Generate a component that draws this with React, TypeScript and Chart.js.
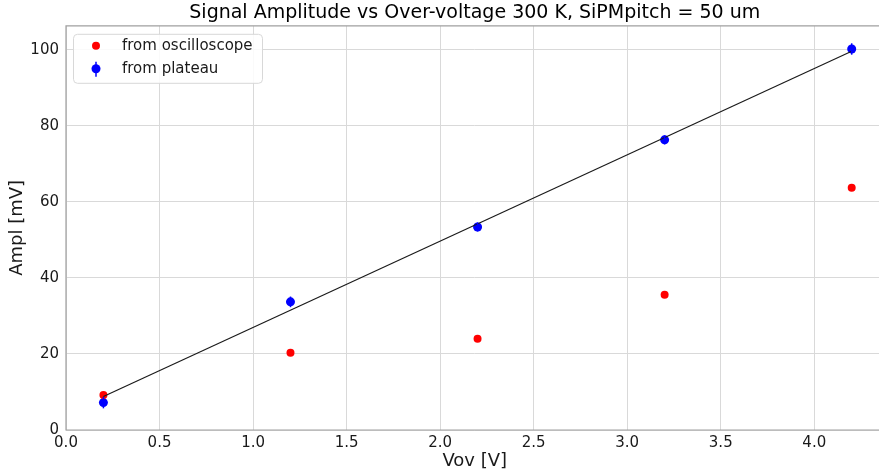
import React, { useEffect, useRef } from "react";
import { Chart, registerables } from "chart.js";

Chart.register(...registerables);

const titleText = "Signal Amplitude vs Over-voltage 300 K, SiPMpitch = 50 um";
const xLabel = "Vov [V]";
const yLabel = "Ampl [mV]";

const vov = [0.2, 1.2, 2.2, 3.2, 4.2];
const amplOscilloscope = [9.2, 20.3, 24.0, 35.6, 63.7];
const amplPlateau = [7.2, 33.7, 53.4, 76.3, 100.2];
const plateauErr = [1.5, 1.4, 1.2, 1.2, 1.5];
const fitX = [0.2, 4.2];
const fitY = [8.8, 99.6];

const xTicks = [0, 0.5, 1.0, 1.5, 2.0, 2.5, 3.0, 3.5, 4.0];
const yTicks = [0, 20, 40, 60, 80, 100];
const xRange = [0, 4.37];
const yRange = [0, 106.3];

const legendLabels = ["from oscilloscope", "from plateau"];

const FONT = "'DejaVu Sans', sans-serif";
const CANVAS_W = 888;
const CANVAS_H = 473;

const extrasPlugin = {
  id: "extras",
  afterDatasetsDraw(chart: any) {
    const { ctx, chartArea } = chart;
    const xs = chart.scales.x;
    const ys = chart.scales.y;
    ctx.save();
    // spines
    ctx.strokeStyle = "#a0a0a0";
    ctx.lineWidth = 1.2;
    ctx.beginPath();
    ctx.moveTo(chartArea.right, chartArea.top);
    ctx.lineTo(chartArea.left, chartArea.top);
    ctx.lineTo(chartArea.left, chartArea.bottom);
    ctx.lineTo(chartArea.right, chartArea.bottom);
    ctx.lineTo(chartArea.right, chartArea.top);
    ctx.stroke();
    // error bars
    ctx.strokeStyle = "#0000ff";
    ctx.lineWidth = 1.5;
    vov.forEach((x, i) => {
      const px = xs.getPixelForValue(x);
      ctx.beginPath();
      ctx.moveTo(px, ys.getPixelForValue(amplPlateau[i] - plateauErr[i]));
      ctx.lineTo(px, ys.getPixelForValue(amplPlateau[i] + plateauErr[i]));
      ctx.stroke();
    });
    // legend
    const lx = chartArea.left + 7;
    const ly = chartArea.top + 8;
    const lw = 189;
    const lh = 49;
    ctx.fillStyle = "rgba(255,255,255,0.85)";
    ctx.strokeStyle = "#d8d8d8";
    ctx.lineWidth = 1;
    ctx.beginPath();
    (ctx as any).roundRect(lx + 0.5, ly + 0.5, lw, lh, 4);
    ctx.fill();
    ctx.stroke();
    const rowY = [ly + 12, ly + 35];
    const mx = lx + 23;
    ctx.fillStyle = "#ff0000";
    ctx.beginPath();
    ctx.arc(mx, rowY[0], 4, 0, Math.PI * 2);
    ctx.fill();
    ctx.strokeStyle = "#0000ff";
    ctx.lineWidth = 1.5;
    ctx.beginPath();
    ctx.moveTo(mx, rowY[1] - 7);
    ctx.lineTo(mx, rowY[1] + 8);
    ctx.stroke();
    ctx.fillStyle = "#0000ff";
    ctx.beginPath();
    ctx.arc(mx, rowY[1], 4.5, 0, Math.PI * 2);
    ctx.fill();
    ctx.fillStyle = "#1a1a1a";
    ctx.font = `15px ${FONT}`;
    ctx.textBaseline = "middle";
    ctx.textAlign = "left";
    ctx.fillText(legendLabels[0], lx + 49, rowY[0]);
    ctx.fillText(legendLabels[1], lx + 49, rowY[1]);
    ctx.restore();
  },
};

export default function App() {
  const ref = useRef<HTMLCanvasElement | null>(null);
  useEffect(() => {
    document.body.style.margin = "0";
    if (!ref.current) return;
    const chart = new Chart(ref.current, {
      type: "scatter",
      data: {
        datasets: [
          {
            label: "fit",
            type: "line",
            data: fitX.map((x, i) => ({ x, y: fitY[i] })),
            borderColor: "#1a1a1a",
            borderWidth: 1.2,
            pointRadius: 0,
            showLine: true,
            fill: false,
          } as any,
          {
            label: legendLabels[0],
            data: vov.map((x, i) => ({ x, y: amplOscilloscope[i] })),
            backgroundColor: "#ff0000",
            borderColor: "#ff0000",
            pointRadius: 4,
            pointBorderWidth: 0,
          },
          {
            label: legendLabels[1],
            data: vov.map((x, i) => ({ x, y: amplPlateau[i] })),
            backgroundColor: "#0000ff",
            borderColor: "#0000ff",
            pointRadius: 4.5,
            pointBorderWidth: 0,
          },
        ],
      },
      plugins: [extrasPlugin],
      options: {
        animation: false,
        responsive: false,
        maintainAspectRatio: false,
        layout: { padding: 0 },
        plugins: {
          legend: { display: false },
          tooltip: { enabled: false },
          title: {
            display: true,
            text: titleText,
            fullSize: false,
            color: "#000",
            font: { family: FONT, size: 19, weight: "normal" },
            padding: { top: 2, bottom: 1 },
          },
        },
        scales: {
          x: {
            type: "linear",
            min: xRange[0],
            max: xRange[1],
            afterBuildTicks: (s: any) => {
              s.ticks = xTicks.map((v) => ({ value: v }));
            },
            afterFit: (s: any) => {
              s.height = 43;
              s.paddingRight = 0;
              s.paddingLeft = 0;
            },
            ticks: {
              color: "#1a1a1a",
              font: { family: FONT, size: 15 },
              padding: 1,
              maxRotation: 0,
              callback: (v: any) => Number(v).toFixed(1),
            },
            grid: { color: "#d9d9d9", lineWidth: 1, drawTicks: true, tickLength: 3, tickColor: "rgba(0,0,0,0)" },
            border: { display: false },
            title: {
              display: true,
              text: xLabel,
              color: "#1a1a1a",
              font: { family: FONT, size: 18 },
              padding: { top: 0, bottom: 1 },
            },
          },
          y: {
            type: "linear",
            min: yRange[0],
            max: yRange[1],
            afterBuildTicks: (s: any) => {
              s.ticks = yTicks.map((v) => ({ value: v }));
            },
            afterFit: (s: any) => {
              s.width = 66;
            },
            ticks: {
              color: "#1a1a1a",
              font: { family: FONT, size: 15 },
              padding: 3,
              callback: (v: any) => String(v),
            },
            grid: { color: "#d9d9d9", lineWidth: 1, drawTicks: true, tickLength: 4, tickColor: "rgba(0,0,0,0)" },
            border: { display: false },
            title: {
              display: true,
              text: yLabel,
              color: "#1a1a1a",
              font: { family: FONT, size: 18 },
              padding: { top: 7, bottom: 0 },
            },
          },
        },
      },
    });
    return () => chart.destroy();
  }, []);
  return (
    <div style={{ position: "absolute", left: 0, top: 0, width: 879, height: 473, overflow: "hidden" }}>
      <canvas
        ref={ref}
        width={CANVAS_W}
        height={CANVAS_H}
        style={{ width: CANVAS_W, height: CANVAS_H, display: "block" }}
      />
    </div>
  );
}
